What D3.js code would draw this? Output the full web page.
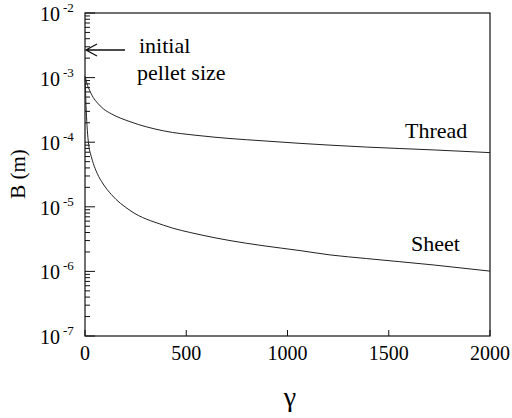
<!DOCTYPE html>
<html>
<head>
<meta charset="utf-8">
<script src="https://cdn.jsdelivr.net/npm/d3@7"></script>
</head>
<body style="margin:0">
<svg id="chart" width="512" height="418"></svg>
<script>
// values
var gamma = [0, 2, 5, 10, 16, 31, 41, 60, 90, 130, 222, 387, 568, 716, 879, 1062, 1210, 1391, 1719, 2000];
var threadB = [1.05e-3, 1.0e-3, 9.3e-4, 8.0e-4, 7.1e-4, 5.6e-4, 4.9e-4, 4.1e-4, 3.3e-4, 2.75e-4, 2.08e-4, 1.5e-4, 1.26e-4, 1.14e-4, 1.05e-4, 9.6e-5, 9.0e-5, 8.4e-5, 7.6e-5, 6.9e-5];
var sheetB = [1.0e-3, 7.0e-4, 3.7e-4, 1.8e-4, 1.05e-4, 6.0e-5, 4.7e-5, 3.3e-5, 2.25e-5, 1.55e-5, 8.8e-6, 5.2e-6, 3.7e-6, 3.0e-6, 2.5e-6, 2.1e-6, 1.8e-6, 1.58e-6, 1.26e-6, 1.01e-6];
var xTicks = [0, 500, 1000, 1500, 2000];
var yExps = [-2, -3, -4, -5, -6, -7];

function fontName() { return "'Tinos', 'Liberation Serif', 'Times New Roman', serif"; }

function ChartWidget(svgName)
{
    this.svg = d3.select(svgName);
    this.left = 85;
    this.right = 490;
    this.top = 13;
    this.bottom = 336;

    this.x = d3.scaleLinear().domain([0, 2000]).range([this.left, this.right]);
    this.y = d3.scaleLog().domain([1e-7, 1e-2]).range([this.bottom, this.top]);
}

ChartWidget.prototype.label = function(px, py, size, str)
{
    return this.svg.append("text")
        .attr("x", px).attr("y", py)
        .style("font-family", fontName)
        .style("font-size", size + "px")
        .text(str);
}

ChartWidget.prototype.draw = function()
{
    var x = this.x, y = this.y, svg = this.svg;
    var left = this.left, right = this.right, top = this.top, bottom = this.bottom;

    // frame
    svg.append("rect")
        .attr("x", left).attr("y", top)
        .attr("width", right - left).attr("height", bottom - top)
        .attr("fill", "none").attr("stroke", "#111").attr("stroke-width", 1.2);

    // left axis ticks, inside
    var minor = [];
    yExps.forEach(function(e) {
      if (e > -7) for (var k = 2; k <= 9; k++) minor.push(k * Math.pow(10, e - 1));
    });
    svg.append("g").selectAll("line.minor")
      .data(minor)
      .enter().append("line")
        .attr("x1", left).attr("x2", left + 5)
        .attr("y1", function(d) { return y(d); })
        .attr("y2", function(d) { return y(d); })
        .attr("stroke", "#111");
    svg.append("g").selectAll("line.major")
      .data(yExps)
      .enter().append("line")
        .attr("x1", left).attr("x2", left + 10)
        .attr("y1", function(d) { return y(Math.pow(10, d)); })
        .attr("y2", function(d) { return y(Math.pow(10, d)); })
        .attr("stroke", "#111");

    var yl = svg.append("g").selectAll("text")
      .data(yExps)
      .enter().append("text")
        .attr("x", 60)
        .attr("y", function(d) { return y(Math.pow(10, d)) + 8; })
        .attr("text-anchor", "end")
        .style("font-family", fontName)
        .style("font-size", "20px");
    yl.append("tspan").text("10");
    yl.append("tspan")
        .attr("x", 63)
        .attr("dy", -9)
        .attr("text-anchor", "start")
        .style("font-size", "13px")
        .text(function(d) { return d; });

    // bottom axis
    svg.append("g").selectAll("line")
      .data(xTicks)
      .enter().append("line")
        .attr("x1", function(d) { return x(d); })
        .attr("x2", function(d) { return x(d); })
        .attr("y1", bottom).attr("y2", bottom - 6)
        .attr("stroke", "#111");
    svg.append("g").selectAll("text")
      .data(xTicks)
      .enter().append("text")
        .attr("x", function(d) { return x(d); })
        .attr("y", 360)
        .attr("text-anchor", "middle")
        .style("font-family", fontName)
        .style("font-size", "20px")
        .text(function(d) { return d; });

    // curves
    var line = d3.line()
        .x(function(d) { return x(d[0]); })
        .y(function(d) { return y(d[1]); })
        .curve(d3.curveMonotoneX);
    [threadB, sheetB].forEach(function(s) {
      svg.append("path")
        .datum(gamma.map(function(g, i) { return [g, s[i]]; }))
        .attr("d", line)
        .attr("fill", "none")
        .attr("stroke", "#222")
        .attr("stroke-width", 1);
    });

    // labels
    this.label(405, 138, 22, "Thread");
    this.label(411, 251, 22, "Sheet");

    // arrow to initial pellet size
    var ay = 50;
    svg.append("path")
        .attr("d", "M" + (left + 40) + "," + ay + "L" + (left + 1) + "," + ay +
                   "M" + (left + 12) + "," + (ay - 6) + "L" + (left + 1) + "," + ay +
                   "L" + (left + 12) + "," + (ay + 6))
        .attr("fill", "none").attr("stroke", "#111").attr("stroke-width", 1.3);
    this.label(139, 53, 22, "initial");
    this.label(137, 80, 22, "pellet size");

    // axis titles
    this.label(0, 0, 21, "B (m)")
        .attr("transform", "translate(25,174) rotate(-90)")
        .attr("text-anchor", "middle");
    this.label(290, 406, 28, "γ")
        .attr("text-anchor", "middle");
}

var chart = new ChartWidget("#chart");
chart.draw();
</script>
</body>
</html>
